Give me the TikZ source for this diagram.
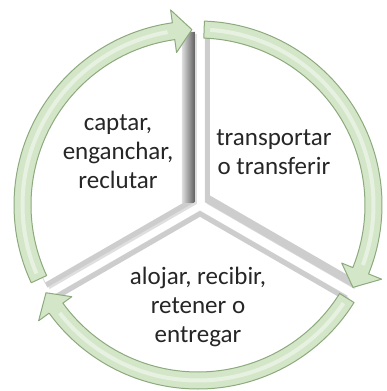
\documentclass[tikz,border=0pt]{standalone}
\usepackage{fontspec}
\setmainfont{Carlito}
\usetikzlibrary{shadows}

\definecolor{arrowfill}{RGB}{212,230,200}
\definecolor{arrowedge}{RGB}{140,170,125}
\definecolor{bevel}{RGB}{205,205,205}

\tikzset{
  segment/.style={fill=white, draw=gray!30, line width=0.8pt,
    drop shadow={shadow xshift=2pt, shadow yshift=-2pt, opacity=0.25}},
  edgebevel/.style={bevel, line width=10pt},
  cyclearrow/.style={fill=arrowfill, draw=arrowedge, line width=1pt, line join=round},
  arrowshine/.style={white!45!arrowfill, line width=4pt},
  steplabel/.style={align=center, font=\fontsize{25}{29}\selectfont, text=black!85}
}

\begin{document}
\begin{tikzpicture}[x=1pt, y=1pt]
    \useasboundingbox (-198,-186) rectangle (188,205);

    % upper left segment, with the dark edge on its right
    \begin{scope}[shift={(2,0)}, shift={(150:6)}]
        \path[segment] (0,0) -- (90:170) arc[start angle=90, end angle=210, radius=170] -- cycle;
        \clip (0,0) -- (90:170) arc[start angle=90, end angle=210, radius=170] -- cycle;
        \draw[edgebevel] (0,0) -- (210:170);
        \shade[left color=gray!25, right color=gray!75!black] (-13,0) rectangle (0,175);
    \end{scope}

    % right segment
    \begin{scope}[shift={(2,0)}, shift={(30:6)}]
        \path[segment] (0,0) -- (-30:170) arc[start angle=-30, end angle=90, radius=170] -- cycle;
        \clip (0,0) -- (-30:170) arc[start angle=-30, end angle=90, radius=170] -- cycle;
        \draw[edgebevel] (0,0) -- (90:170);
        \draw[edgebevel, line width=16pt] (0,0) -- (-30:170);
    \end{scope}

    % bottom segment
    \begin{scope}[shift={(2,0)}, shift={(270:6)}]
        \path[segment] (0,0) -- (210:170) arc[start angle=210, end angle=330, radius=170] -- cycle;
        \clip (0,0) -- (210:170) arc[start angle=210, end angle=330, radius=170] -- cycle;
        \draw[edgebevel] (210:170) -- (0,0) -- (330:170);
    \end{scope}

    % labels
    \node[steplabel] (capture) at (-80,53) {captar,\\enganchar,\\reclutar};
    \node[steplabel] (transfer) at (76,53) {transportar\\o transferir};
    \node[steplabel] (deliver) at (0,-102) {alojar, recibir,\\retener o\\entregar};

    % arrow 1: left side, up to the top
    \draw[cyclearrow] (205:184) arc[start angle=205, end angle=98, radius=184]
        -- (98:197) -- (92:175.5) -- (98:154) -- (98:167)
        arc[start angle=98, end angle=205, radius=167] -- cycle;
    \draw[arrowshine] (203:175.5) arc[start angle=203, end angle=100, radius=175.5];

    % arrow 2: top, down to the lower right
    \draw[cyclearrow] (88:184) arc[start angle=88, end angle=-22, radius=184]
        -- (-22:198) -- (-28:175.5) -- (-22:155) -- (-22:167)
        arc[start angle=-22, end angle=88, radius=167] -- cycle;
    \draw[arrowshine] (86:175.5) arc[start angle=86, end angle=-20, radius=175.5];

    % arrow 3: lower right, round the bottom to the lower left
    \draw[cyclearrow] (-32:184) arc[start angle=-32, end angle=-144, radius=184]
        -- (-144:197) -- (-150:175.5) -- (-144:156) -- (-144:167)
        arc[start angle=-144, end angle=-32, radius=167] -- cycle;
    \draw[arrowshine] (-34:175.5) arc[start angle=-34, end angle=-142, radius=175.5];
\end{tikzpicture}
\end{document}
